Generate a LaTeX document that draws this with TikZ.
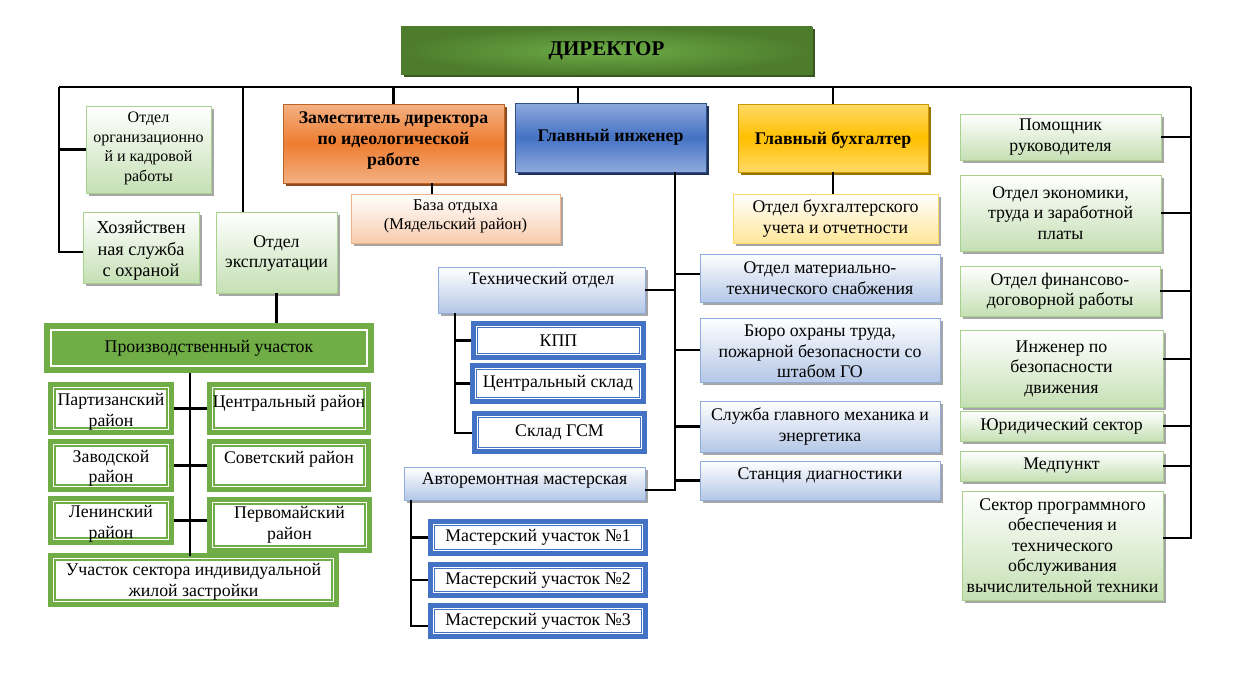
\documentclass[tikz,border=0pt]{standalone}
\usepackage{fontspec}
\setmainfont{Liberation Serif}
\usetikzlibrary{shadows}
\definecolor{G}{HTML}{70AD47}
\definecolor{GB}{HTML}{A9D18E}
\definecolor{GL}{HTML}{C5E0B4}
\definecolor{BB}{HTML}{8FAADC}
\definecolor{BL}{HTML}{B4C7E7}
\definecolor{BS}{HTML}{4472C4}
\definecolor{OB}{HTML}{F4B183}
\definecolor{OL}{HTML}{F8CBAD}
\definecolor{OS}{HTML}{ED7D31}
\definecolor{YB}{HTML}{FFD966}
\definecolor{YL}{HTML}{FFE699}
\definecolor{YS}{HTML}{FFC000}
\definecolor{DG1}{HTML}{6CAC47}
\definecolor{DG2}{HTML}{4D7C2C}
\definecolor{DGS}{HTML}{385723}
\tikzset{
  lightg/.style={draw=GB,line width=0.9pt,top color=white,bottom color=GL,
     drop shadow={shadow xshift=2.5pt,shadow yshift=-2.5pt,fill=black!35,opacity=1}},
  lightb/.style={draw=BB,line width=0.9pt,top color=white,bottom color=BL,
     drop shadow={shadow xshift=2.5pt,shadow yshift=-2.5pt,fill=black!35,opacity=1}},
  lighto/.style={draw=OB,line width=0.9pt,top color=white,bottom color=OL,
     drop shadow={shadow xshift=2.5pt,shadow yshift=-2.5pt,fill=black!35,opacity=1}},
  lighty/.style={draw=YB,line width=0.9pt,top color=white,bottom color=YL,
     drop shadow={shadow xshift=2.5pt,shadow yshift=-2.5pt,fill=black!35,opacity=1}},
  dirbox/.style={draw=DG2,line width=0.8pt,inner color=DG1,outer color=DG2,
     drop shadow={shadow xshift=2.5pt,shadow yshift=-2.5pt,fill=DGS,opacity=1}},
  zambox/.style={draw=OS!80!black,line width=0.8pt,top color=OB,bottom color=OB,middle color=OS,
     drop shadow={shadow xshift=2.5pt,shadow yshift=-2.5pt,fill=OS!60!black,opacity=1}},
  engbox/.style={draw=BS!70!black,line width=0.8pt,top color=BB,bottom color=BB,middle color=BS,
     drop shadow={shadow xshift=2.5pt,shadow yshift=-2.5pt,fill=BS!45!black,opacity=1}},
  buhbox/.style={draw=YS!80!black,line width=0.8pt,top color=YB,bottom color=YB,middle color=YS,
     drop shadow={shadow xshift=2.5pt,shadow yshift=-2.5pt,fill=YS!60!black,opacity=1}},
  tg/.style={fill=white,draw=G,line width=5pt,
     path picture={\draw[G,line width=1.6pt] ([shift={(4.3pt,4.3pt)}]path picture bounding box.south west) rectangle ([shift={(-4.3pt,-4.3pt)}]path picture bounding box.north east);}},
  tb/.style={fill=white,draw=BS,line width=4.5pt,
     path picture={\draw[BS,line width=1.4pt] ([shift={(4pt,4pt)}]path picture bounding box.south west) rectangle ([shift={(-4pt,-4pt)}]path picture bounding box.north east);}},
  prodbox/.style={fill=G,draw=G,line width=5pt,
     path picture={\draw[white,line width=2pt] ([shift={(4.5pt,4.5pt)}]path picture bounding box.south west) rectangle ([shift={(-4.5pt,-4.5pt)}]path picture bounding box.north east);}},
  txt/.style={align=center,inner sep=0pt,text=black},
  tN/.style={font=\fontsize{17.8}{20.5}\selectfont},
  tS/.style={font=\fontsize{16}{19.5}\selectfont},
  tM/.style={font=\fontsize{16.5}{19}\selectfont},
  tB/.style={font=\bfseries\fontsize{17.8}{21}\selectfont},
  tD/.style={font=\bfseries\fontsize{21}{24}\selectfont},
  tH/.style={font=\fontsize{18.3}{21.5}\selectfont},
  con/.style={draw=black,line width=2.2pt}
}
% \bx[text offset]{name}{box style}{x1}{y1}{x2}{y2}{text style}{text}
\newcommand\bx[9][0]{%
  \node[#3,inner sep=0pt,minimum width={(#6-#4)*1pt},minimum height={(#7-#5)*1pt}] (#2) at ({(#4+#6)/2},{(#5+#7)/2}) {};
  \node[txt,#8] (#2t) at ([yshift={(#1)*(-1pt)}]#2.center) {#9};}
\newcommand\tbx[9][0]{%
  \node[#3,inner sep=0pt,minimum width={(#6-#4-5)*1pt},minimum height={(#7-#5-5)*1pt}] (#2) at ({(#4+#6)/2},{(#5+#7)/2}) {};
  \node[txt,#8] (#2t) at ([yshift={(#1)*(-1pt)}]#2.center) {#9};}
\begin{document}
\begin{tikzpicture}[x=1pt,y=-1pt]
\fill[white] (0,0) rectangle (1236,693);
\useasboundingbox (0,0) rectangle (1236,693);

% ---------- boxes ----------
\bx{dir}{dirbox}{401}{27}{812}{74}{tD}{ДИРЕКТОР}

\bx[-1]{org}{lightg}{86}{106}{211}{193}{tS}{Отдел\\организационно\\й и кадровой\\работы}
\bx[3.5]{hoz}{lightg}{83}{212}{199}{283}{tH}{Хозяйствен\\ная служба\\с охраной}
\bx[1]{expl}{lightg}{216}{212}{337}{293}{tN}{Отдел\\эксплуатации}

\bx[-3]{zam}{zambox}{283}{104}{504}{183}{tB}{Заместитель директора\\по идеологической\\работе}
\bx[-2]{baza}{lighto}{351}{194}{560}{243}{tM}{База отдыха\\(Мядельский район)}

\bx{eng}{engbox}{515}{103}{706}{172}{tB}{Главный инженер}
\bx[2]{buh}{buhbox}{738}{104}{928}{172}{tB}{Главный бухгалтер}
\bx{obuh}{lighty}{733}{194}{938}{243}{tN}{Отдел бухгалтерского\\учета и отчетности}

\bx[-10]{tech}{lightb}{438}{267}{645}{313}{tN}{Технический отдел}
\tbx{kpp}{tb}{471}{321}{646}{360}{tN}{КПП}
\tbx{csk}{tb}{470}{363}{646}{404}{tN}{Центральный склад}
\tbx{gsm}{tb}{472}{411}{647}{454}{tN}{Склад ГСМ}
\bx[-2.5]{avto}{lightb}{404}{467}{645}{500}{tN}{Авторемонтная мастерская}
\tbx{ma}{tb}{428}{519}{648}{556}{tN}{Мастерский участок №1}
\tbx{mb}{tb}{428}{562}{648}{598}{tN}{Мастерский участок №2}
\tbx{mc}{tb}{428}{603}{648}{639}{tN}{Мастерский участок №3}

\bx{mat}{lightb}{700}{254}{940}{302}{tN}{Отдел материально-\\технического снабжения}
\bx[1.5]{byuro}{lightb}{700}{318}{940}{382}{tN}{Бюро охраны труда,\\пожарной безопасности со\\штабом ГО}
\bx{sluzh}{lightb}{700}{401}{940}{452}{tN}{Служба главного механика и\\энергетика}
\bx[-5.5]{stan}{lightb}{700}{461}{940}{500}{tN}{Станция диагностики}

\bx{pom}{lightg}{960}{114}{1161}{160}{tN}{Помощник\\руководителя}
\bx{econ}{lightg}{960}{175}{1161}{251}{tN}{Отдел экономики,\\труда и заработной\\платы}
\bx{fin}{lightg}{960}{266}{1160}{316}{tN}{Отдел финансово-\\договорной работы}
\bx{inzh}{lightg}{960}{330}{1163}{407}{tN}{Инженер по\\безопасности\\движения}
\bx{jur}{lightg}{960}{411}{1163}{441}{tN}{Юридический сектор}
\bx{med}{lightg}{960}{451}{1163}{481}{tN}{Медпункт}
\bx{sect}{lightg}{962}{491}{1163}{600}{tN}{Сектор программного\\обеспечения и\\технического\\обслуживания\\вычислительной техники}

\tbx{prod}{prodbox}{44}{323}{374}{373}{tN}{Производственный участок}
\tbx[3.5]{part}{tg}{48}{382}{174}{435}{tN}{Партизанский\\район}
\tbx[-5.5]{centr}{tg}{207}{382}{371}{435}{tN}{Центральный район}
\tbx[3]{zav}{tg}{48}{439}{174}{492}{tN}{Заводской\\район}
\tbx[-6.5]{sov}{tg}{207}{439}{371}{492}{tN}{Советский район}
\tbx[3.5]{len}{tg}{48}{496}{174}{545}{tN}{Ленинский\\район}
\tbx{perv}{tg}{207}{497}{372}{553}{tN}{Первомайский\\район}
\tbx[2]{usec}{tg}{48}{553}{339}{607}{tN}{Участок сектора индивидуальной\\жилой застройки}

% ---------- connectors ----------
\coordinate (bL) at (59,87);
\coordinate (bR) at (1191,87);
\coordinate (lB) at (59,252);
\coordinate (rB) at (1191,538);
\coordinate (rI) at (1191,359);
\coordinate (bExpl) at (243,87);
\coordinate (bEng) at (578,87);
\coordinate (zb) at (432,183);
\coordinate (eT) at (675,172);
\coordinate (eB) at (675,490);
\coordinate (eM) at (675,274);
\coordinate (tT) at (455,313);
\coordinate (tB2) at (455,433);
\coordinate (aT) at (411,500);
\coordinate (aB) at (411,626);
\coordinate (dT) at (190,373);
\coordinate (dB) at (190,556);

\draw[con] (bL) -- (bR);
\draw[con] (bR) -- (rB) -- (rB -| sect.east);
\draw[con] (bL) -- (lB) -- (lB -| hoz.west);
\draw[con] (org.west) -- (org.west -| bL);
\draw[con] (bExpl) -- (bExpl |- expl.north);
\draw[con] (zam.north) -- (zam.north |- bL);
\draw[con] (bEng) -- (bEng |- eng.north);
\draw[con] (buh.north) -- (buh.north |- bL);
\draw[con] (zb) -- (zb |- baza.north);
\draw[con] (buh.south) -- (buh.south |- obuh.north);
\draw[con] (expl.south) -- (expl.south |- prod.north);

\foreach \n in {pom,econ,fin,jur,med} \draw[con] (\n.east) -- (\n.east -| bR);
\draw[con] (rI) -- (rI -| inzh.east);

\draw[con] (eT) -- (eB) -- (eB -| avto.east);
\draw[con] (tech.east) -- (tech.east -| eT);
\draw[con] (eM) -- (eM -| mat.west);
\foreach \n in {byuro,sluzh,stan} \draw[con] (\n.west) -- (\n.west -| eT);

\draw[con] (tT) -- (tB2) -- (tB2 -| gsm.west);
\foreach \n in {kpp,csk} \draw[con] (\n.west) -- (\n.west -| tT);

\draw[con] (aT) -- (aB) -- (aB -| mc.west);
\foreach \n in {ma,mb} \draw[con] (\n.west) -- (\n.west -| aT);

\draw[con] (dT) -- (dB);
\draw[con] (part.east) -- (part.east -| centr.west);
\draw[con] (zav.east) -- (zav.east -| sov.west);
\draw[con] (len.east) -- (len.east -| perv.west);
\end{tikzpicture}
\end{document}
